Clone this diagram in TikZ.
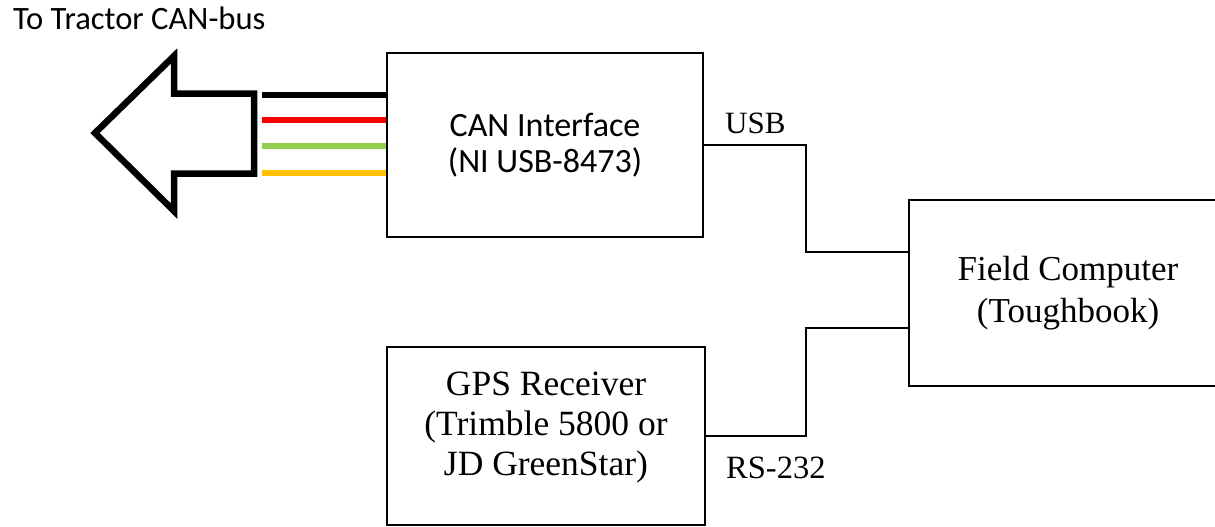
\documentclass[tikz,border=0pt]{standalone}
\usepackage{fontspec}
\setmainfont{Liberation Serif}
\newfontfamily\calibri{Carlito}
\definecolor{wred}{HTML}{FF0000}
\definecolor{wgreen}{HTML}{92D050}
\definecolor{worange}{HTML}{FFC000}
\begin{document}
\begin{tikzpicture}[x=1pt,y=-1pt,
  box/.style={draw=black, line width=2pt, inner sep=0pt, align=center},
  conn/.style={draw=black, line width=2pt},
  wire/.style={line width=6pt},
  sanstext/.style={font={\calibri\fontsize{34}{36}\selectfont}},
  serftext/.style={font={\fontsize{35}{42}\selectfont}, align=center},
  lbl/.style={font={\fontsize{31}{36}\selectfont}, anchor=base west, inner sep=0pt}]
\useasboundingbox (0,0) rectangle (1215,527);
\clip (0,0) rectangle (1215,527);
\fill[white] (0,0) rectangle (1215,527);

% title
\node[font={\calibri\fontsize{32.6}{36}\selectfont}, anchor=base west, inner sep=0pt] (title) at (13,30) {To Tractor CAN-bus};

% big outline arrow
\draw[line width=6.5pt, miter limit=10] (95,133) -- (174,56) -- (174,93.5) -- (254,93.5)
  -- (254,173.5) -- (174,173.5) -- (174,211) -- cycle;

% boxes
\node[box, sanstext, minimum width=316pt, minimum height=184pt] (can) at (545,145)
  {CAN Interface\\(NI USB-8473)};
\node[box, serftext, minimum width=318pt, minimum height=186pt] (field) at (1068,293)
  {Field Computer\\(Toughbook)};
\node[box, minimum width=318pt, minimum height=178pt] (gps) at (546,436) {};
\node[serftext, font={\fontsize{35.5}{40}\selectfont}] (gpstext) at (546,427.5)
  {GPS Receiver\\(Trimble 5800 or\\JD GreenStar)};

% wires
\coordinate (wk) at (262,94.5);
\coordinate (wr) at (262,120);
\coordinate (wg) at (262,146);
\coordinate (wo) at (262,173);
\draw[wire, black]   (wk) -- (wk -| can.west);
\draw[wire, wred]    (wr) -- (wr -| can.west);
\draw[wire, wgreen]  (wg) -- (wg -| can.west);
\draw[wire, worange] (wo) -- (wo -| can.west);

% connectors
\coordinate (u1) at (806,252);
\coordinate (r1) at (806,328);
\draw[conn] (can.east) -| (u1) -- (u1 -| field.west);
\draw[conn] (gps.east) -| (r1) -- (r1 -| field.west);

% labels
\node[lbl] (usb) at (725,133) {USB};
\node[lbl, font={\fontsize{32.5}{36}\selectfont}] (rs) at (726,478) {RS-232};
\end{tikzpicture}
\end{document}
